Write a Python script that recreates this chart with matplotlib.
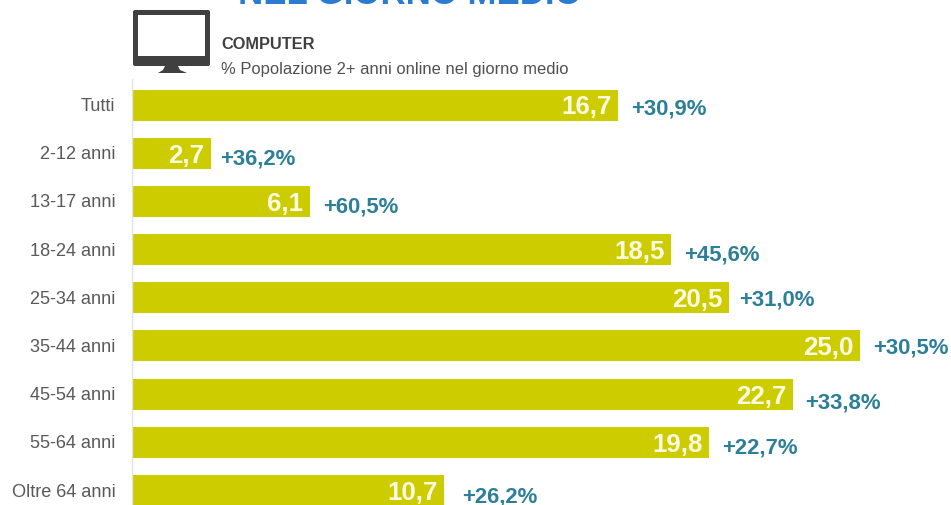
import matplotlib
matplotlib.use('Agg')
import matplotlib.pyplot as plt
from matplotlib.patches import FancyBboxPatch, Rectangle, Polygon
from matplotlib.transforms import ScaledTranslation

# --- Data ---
categories = ['Tutti', '2-12 anni', '13-17 anni', '18-24 anni', '25-34 anni',
              '35-44 anni', '45-54 anni', '55-64 anni', 'Oltre 64 anni']
values = [16.7, 2.7, 6.1, 18.5, 20.5, 25.0, 22.7, 19.8, 10.7]
changes = ['+30,9%', '+36,2%', '+60,5%', '+45,6%', '+31,0%',
           '+30,5%', '+33,8%', '+22,7%', '+26,2%']

# Hand placement of the change labels, in pixels
change_dx = [-1, -4, 0, 0, -4, -1, -2, 0, 5]
change_dy = [1, 3, 3, 2, -1, -1, 6, 3, 3]

W, H = 951, 506
BAR_COLOR = '#cccc00'
TEAL = '#2b7f96'
DARK = '#404040'
PT = 72 / 100  # points per pixel at dpi 100

plt.rcParams['font.family'] = ['Liberation Sans', 'DejaVu Sans']

fig = plt.figure(figsize=(W / 100, H / 100), dpi=100, facecolor='white')

# --- Header layer in pixel coordinates ---
bg = fig.add_axes([0, 0, 1, 1])
bg.set_xlim(0, W)
bg.set_ylim(H, 0)
bg.axis('off')

# title runs off the top edge on purpose
bg.text(410, 4, 'NEL GIORNO MEDIO', color='#2b7bd0', fontsize=25, fontweight='bold',
        ha='center', va='baseline')

# Monitor icon
bg.add_patch(FancyBboxPatch((134, 12), 75, 54, boxstyle='round,pad=1,rounding_size=2',
                            color=DARK, lw=0))
bg.add_patch(Rectangle((138, 16), 67, 41, color='white', lw=0))
bg.add_patch(Polygon([(165, 67), (178, 67), (180, 71), (187, 74), (158, 74), (163, 71)],
                     color=DARK, lw=0))

bg.text(221, 44, 'COMPUTER', color=DARK, fontsize=11.8, fontweight='bold', va='center')
bg.text(221, 69.5, '% Popolazione 2+ anni online nel giorno medio', color='#505050',
        fontsize=11.85, va='center')

# --- Bars ---
ax = fig.add_axes([132 / W, 0, (W - 132) / W, (H - 80) / H])
ax.patch.set_alpha(0)
positions = list(range(len(categories)))
ax.barh(positions, values, height=0.643, color=BAR_COLOR)
ax.set_xlim(0, (W - 132) / 29.12)
ax.set_ylim(8.30, -0.54)

for s in ['top', 'right', 'bottom']:
    ax.spines[s].set_visible(False)
ax.spines['left'].set_color('#e2e2e2')
ax.spines['left'].set_linewidth(1)
ax.xaxis.set_visible(False)
ax.set_yticks(positions)
ax.set_yticklabels(categories, fontsize=13.1, color='#595959')
ax.tick_params(axis='y', length=0, pad=12)

# nudge the category labels up a little
nudge = ScaledTranslation(0, 1.5 / 100, fig.dpi_scale_trans)
for lab in ax.get_yticklabels():
    lab.set_transform(lab.get_transform() + nudge)

for pos, val, chg, dx, dy in zip(positions, values, changes, change_dx, change_dy):
    ax.annotate(f'{val:.1f}'.replace('.', ','), (val, pos), xytext=(-4.5, -1),
                textcoords='offset points', ha='right', va='center',
                color='#fdfbe2', fontsize=18.6, fontweight='bold')
    ax.annotate(chg, (val, pos), xytext=(10 + dx * PT, -1.5 - dy * PT),
                textcoords='offset points', ha='left', va='center',
                color=TEAL, fontsize=15.9, fontweight='bold')

fig.savefig('out.png', dpi=100)
